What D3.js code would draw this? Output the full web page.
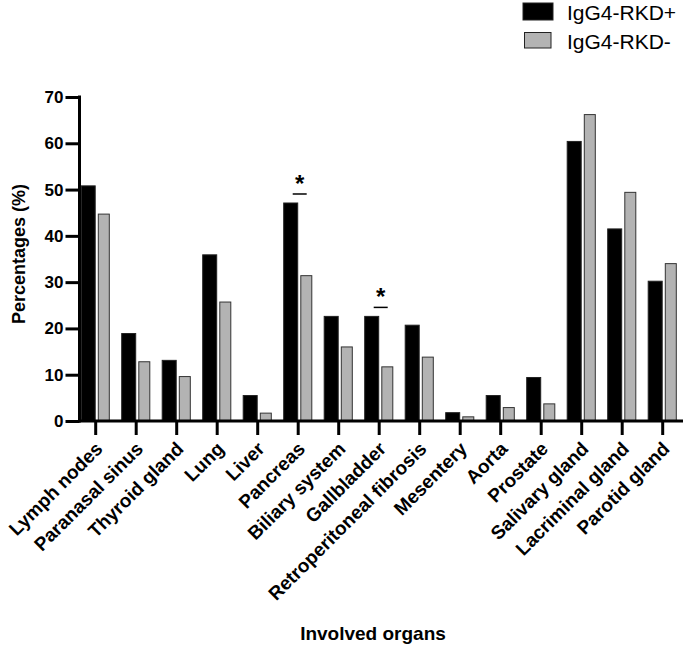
<!DOCTYPE html>
<html>
<head>
<meta charset="utf-8">
<script src="https://cdn.jsdelivr.net/npm/d3@7"></script>
<style>
  body { margin: 0; background: #fff; }
  svg text { font-family: Arial, "Liberation Sans", sans-serif; }
</style>
</head>
<body>
<div class="plot"></div>
<script>
const organs = ['Lymph nodes', 'Paranasal sinus', 'Thyroid gland', 'Lung', 'Liver', 'Pancreas',
    'Biliary system', 'Gallbladder', 'Retroperitoneal fibrosis', 'Mesentery', 'Aorta', 'Prostate',
    'Salivary gland', 'Lacriminal gland', 'Parotid gland'];
const positive = [50.8, 18.9, 13.1, 35.9, 5.5, 47.1, 22.6, 22.6, 20.7, 1.8, 5.5, 9.4, 60.4, 41.5, 30.2];
const negative = [44.7, 12.8, 9.6, 25.7, 1.7, 31.4, 16.0, 11.7, 13.8, 0.9, 2.9, 3.7, 66.2, 49.4, 34.0];
const yTicks = [0, 10, 20, 30, 40, 50, 60, 70];
const significant = ['Pancreas', 'Gallbladder'];
const seriesNames = ['IgG4-RKD+', 'IgG4-RKD-'];

const W = 685, H = 650;
const black = '#000', grey = '#b3b3b3';

const svg = d3.select('.plot')
    .append('svg')
    .attr('width', W)
    .attr('height', H);

// scales
const x = d3.scaleBand()
    .domain(organs)
    .range([75.45, 682.95]);

const y = d3.scaleLinear()
    .domain([0, 70])
    .range([421, 97]);

const xc = d => x(d) + x.bandwidth() / 2;

// bars
const rows = organs.map((o, i) => ({ organ: o, pos: positive[i], neg: negative[i] }));

svg.selectAll('rect.pos')
    .data(rows)
    .enter()
    .append('rect')
    .attr('class', 'pos')
    .attr('x', d => xc(d.organ) - 14.5)
    .attr('width', 14)
    .attr('y', d => y(d.pos))
    .attr('height', d => y(0) - y(d.pos))
    .attr('fill', black)
    .attr('stroke', '#222')
    .attr('stroke-width', 1);

svg.selectAll('rect.neg')
    .data(rows)
    .enter()
    .append('rect')
    .attr('class', 'neg')
    .attr('x', d => xc(d.organ) + 2.6)
    .attr('width', 11)
    .attr('y', d => y(d.neg))
    .attr('height', d => y(0) - y(d.neg))
    .attr('fill', grey)
    .attr('stroke', '#333')
    .attr('stroke-width', 1);

// AXES
const yAxis = d3.axisLeft(y)
    .tickValues(yTicks)
    .tickSize(14)
    .tickSizeOuter(0)
    .tickPadding(2);

const gy = svg.append('g')
    .attr('transform', 'translate(79.5, 0)')
    .call(yAxis);
gy.select('.domain').remove();
gy.selectAll('line').attr('stroke', '#000').attr('stroke-width', 3);
gy.selectAll('text')
    .attr('font-size', '17px')
    .attr('font-weight', 'bold')
    .attr('fill', '#000');
gy.append('line')
    .attr('x1', 0).attr('x2', 0)
    .attr('y1', y(70) - 1.5).attr('y2', y(0) + 1.5)
    .attr('stroke', '#000').attr('stroke-width', 3);

const xAxis = d3.axisBottom(x)
    .tickSize(14)
    .tickSizeOuter(0)
    .tickFormat('');

const gx = svg.append('g')
    .attr('transform', `translate(0, ${y(0)})`)
    .call(xAxis);
gx.select('.domain').remove();
gx.selectAll('line').attr('stroke', '#000').attr('stroke-width', 3);
gx.append('line')
    .attr('x1', 78).attr('x2', 683)
    .attr('stroke', '#000').attr('stroke-width', 3);

// rotated organ labels
svg.selectAll('text.organ')
    .data(organs)
    .enter()
    .append('text')
    .attr('class', 'organ')
    .attr('text-anchor', 'end')
    .attr('font-size', '19px')
    .attr('font-weight', 'bold')
    .attr('transform', d => `translate(${xc(d) + 8}, ${y(0) + 29}) rotate(-45)`)
    .text(d => d);

// significance marks
significant.forEach(o => {
    const i = organs.indexOf(o);
    const top = y(Math.max(positive[i], negative[i])) - 9;
    svg.append('line')
        .attr('x1', xc(o) - 5.5).attr('x2', xc(o) + 8.5)
        .attr('y1', top).attr('y2', top)
        .attr('stroke', '#000').attr('stroke-width', 1.5);
    svg.append('text')
        .attr('x', xc(o) + 1.5)
        .attr('y', top - 2)
        .attr('text-anchor', 'middle')
        .attr('font-size', '24px')
        .attr('font-weight', 'bold')
        .text('*');
});

// axis titles
svg.append('text')
    .attr('transform', 'translate(25, 254) rotate(-90)')
    .attr('text-anchor', 'middle')
    .attr('font-size', '18px')
    .attr('font-weight', 'bold')
    .text('Percentages (%)');

svg.append('text')
    .attr('x', 373)
    .attr('y', 640)
    .attr('text-anchor', 'middle')
    .attr('font-size', '19px')
    .attr('font-weight', 'bold')
    .text('Involved organs');

// Legend
const legend = svg.append('g').attr('id', 'legend');
const legendItem = (i, fill, rx, ry, w, h, ty) => {
    legend.append('rect')
        .attr('x', rx).attr('y', ry)
        .attr('width', w).attr('height', h)
        .attr('fill', fill)
        .attr('stroke', '#222')
        .attr('stroke-width', 1);
    legend.append('text')
        .text(seriesNames[i])
        .attr('x', 567)
        .attr('y', ty)
        .attr('font-size', '21px');
};
legendItem(0, black, 523, 3, 30, 17, 20);
legendItem(1, grey, 524.5, 32.5, 26.5, 15.5, 48.5);
</script>
</body>
</html>
